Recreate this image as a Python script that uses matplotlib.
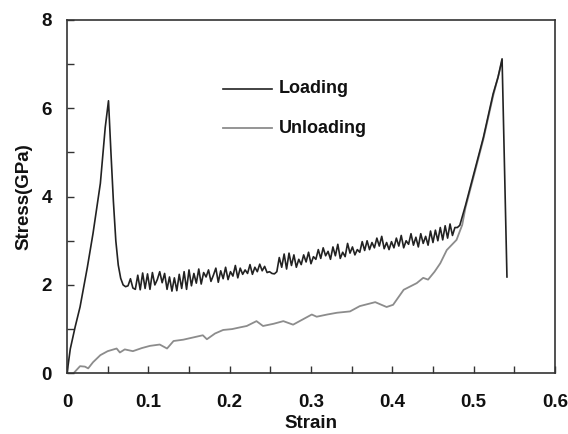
import matplotlib
matplotlib.use("Agg")
import matplotlib.pyplot as plt
from matplotlib.ticker import MultipleLocator

plt.rcParams['font.family'] = ['Liberation Sans', 'DejaVu Sans']
plt.rcParams['font.weight'] = 'bold'

# Loading branch: elastic rise, first peak, drop
loading_rise_strain = [0.0, 0.004, 0.010, 0.016, 0.025, 0.032, 0.041, 0.047, 0.051,
                       0.054, 0.057, 0.060, 0.063, 0.066, 0.069]
loading_rise_stress = [0.0, 0.55, 1.05, 1.5, 2.4, 3.17, 4.3, 5.57, 6.17,
                       5.0, 3.9, 3.0, 2.45, 2.15, 2.0]

# Loading branch: serrated plateau
plateau_strain = [
    0.072, 0.075, 0.078, 0.081, 0.084, 0.087, 0.090, 0.093, 0.096, 0.099,
    0.102, 0.105, 0.108, 0.111, 0.114, 0.117, 0.120, 0.123, 0.126, 0.129,
    0.132, 0.135, 0.138, 0.141, 0.144, 0.147, 0.150, 0.153, 0.156, 0.159,
    0.162, 0.165, 0.168, 0.171, 0.174, 0.177, 0.180, 0.183, 0.186, 0.189,
    0.192, 0.195, 0.198, 0.201, 0.204, 0.207, 0.210, 0.213, 0.216, 0.219,
    0.222, 0.225, 0.228, 0.231, 0.234, 0.237, 0.240, 0.243, 0.246, 0.249,
    0.252, 0.255, 0.258, 0.261, 0.264, 0.267, 0.270, 0.273, 0.276, 0.279,
    0.282, 0.285, 0.288, 0.291, 0.294, 0.297, 0.300, 0.303, 0.306, 0.309,
    0.312, 0.315, 0.318, 0.321, 0.324, 0.327, 0.330, 0.333, 0.336, 0.339,
    0.342, 0.345, 0.348, 0.351, 0.354, 0.357, 0.360, 0.363, 0.366, 0.369,
    0.372, 0.375, 0.378, 0.381, 0.384, 0.387, 0.390, 0.393, 0.396, 0.399,
    0.402, 0.405, 0.408, 0.411, 0.414, 0.417, 0.420, 0.423, 0.426, 0.429,
    0.432, 0.435, 0.438, 0.441, 0.444, 0.447, 0.450, 0.453, 0.456, 0.459,
    0.462, 0.465, 0.468, 0.471, 0.474, 0.477, 0.480,
]
plateau_stress = [
    1.96, 1.98, 2.14, 1.93, 1.90, 2.22, 1.89, 2.27, 1.92, 2.25,
    1.90, 2.28, 2.00, 2.12, 2.30, 2.05, 2.26, 1.90, 2.18, 1.86,
    2.16, 1.87, 2.24, 1.92, 2.30, 1.90, 2.34, 1.98, 2.26, 2.04,
    2.36, 2.02, 2.28, 2.18, 2.34, 2.08, 2.22, 2.38, 2.06, 2.32,
    2.14, 2.40, 2.12, 2.30, 2.20, 2.44, 2.16, 2.38, 2.24, 2.34,
    2.26, 2.46, 2.24, 2.40, 2.30, 2.47, 2.32, 2.42, 2.28, 2.30,
    2.26, 2.25, 2.30, 2.62, 2.40, 2.70, 2.36, 2.72, 2.44, 2.68,
    2.40, 2.58, 2.46, 2.68, 2.52, 2.74, 2.48, 2.64, 2.58, 2.80,
    2.60, 2.84, 2.66, 2.76, 2.58, 2.86, 2.66, 2.92, 2.60, 2.74,
    2.64, 2.94, 2.72, 2.86, 2.68, 2.80, 2.74, 2.98, 2.78, 3.00,
    2.80, 2.96, 2.84, 3.06, 2.88, 3.10, 2.82, 2.96, 2.80, 2.98,
    2.84, 3.06, 2.88, 3.12, 2.84, 3.00, 2.92, 3.16, 2.90, 3.08,
    2.86, 3.16, 2.94, 3.10, 2.90, 3.22, 2.96, 3.24, 3.00, 3.30,
    3.02, 3.34, 3.06, 3.38, 3.12, 3.30, 3.30,
]

# Loading branch: densification, final peak and failure
loading_end_strain = [0.483, 0.490, 0.500, 0.512, 0.524, 0.530, 0.533, 0.535, 0.541]
loading_end_stress = [3.35, 3.80, 4.50, 5.34, 6.33, 6.70, 6.95, 7.12, 2.18]

# Unloading branch
unloading_strain = [0.008, 0.016, 0.022, 0.026, 0.032, 0.041, 0.050, 0.061, 0.065,
                    0.071, 0.081, 0.092, 0.102, 0.114, 0.123, 0.131, 0.143, 0.155,
                    0.167, 0.172, 0.182, 0.192, 0.203, 0.213, 0.221, 0.233, 0.241,
                    0.254, 0.266, 0.278, 0.290, 0.301, 0.307, 0.320, 0.332, 0.348,
                    0.360, 0.379, 0.393, 0.401, 0.414, 0.430, 0.438, 0.444, 0.452,
                    0.459, 0.467, 0.479, 0.486, 0.490, 0.500, 0.512, 0.524, 0.533,
                    0.535]
unloading_stress = [0.0, 0.16, 0.15, 0.11, 0.25, 0.41, 0.50, 0.56, 0.47,
                    0.54, 0.50, 0.57, 0.62, 0.65, 0.56, 0.73, 0.76, 0.81,
                    0.86, 0.77, 0.90, 0.98, 1.00, 1.04, 1.07, 1.18, 1.07,
                    1.12, 1.18, 1.10, 1.22, 1.33, 1.28, 1.33, 1.37, 1.40,
                    1.52, 1.61, 1.50, 1.55, 1.89, 2.04, 2.16, 2.12, 2.30,
                    2.49, 2.79, 3.02, 3.36, 3.75, 4.45, 5.30, 6.28, 6.92,
                    7.08]

loading_strain = loading_rise_strain + plateau_strain + loading_end_strain
loading_stress = loading_rise_stress + plateau_stress + loading_end_stress

fig = plt.figure(figsize=(5.68, 4.34), dpi=100)
ax = fig.add_axes([0.118, 0.140, 0.859, 0.814])

ax.plot(unloading_strain, unloading_stress, color='#8c8c8c', lw=1.3)
ax.plot(loading_strain, loading_stress, color='#222222', lw=1.2)

ax.set_xlim(0, 0.6)
ax.set_ylim(0, 8)
ax.xaxis.set_major_locator(MultipleLocator(0.1))
ax.xaxis.set_minor_locator(MultipleLocator(0.05))
ax.yaxis.set_major_locator(MultipleLocator(2))
ax.yaxis.set_minor_locator(MultipleLocator(1))
ax.xaxis.set_major_formatter(plt.FuncFormatter(lambda v, p: '0' if v == 0 else f'{v:.1f}'))
ax.yaxis.set_major_formatter(plt.FuncFormatter(lambda v, p: f'{v:.0f}'))

for s in ax.spines.values():
    s.set_color('#333333')
    s.set_linewidth(1.2)
ax.tick_params(which='both', direction='in', color='#333333', width=1.0,
               labelsize=13.5, labelcolor='#111111')
ax.tick_params(which='both', length=5)
ax.tick_params(axis='x', pad=15)
ax.tick_params(axis='y', pad=11)

ax.set_xlabel('Strain', fontsize=13.5, fontweight='bold', color='#111111', labelpad=3)
ax.set_ylabel('Stress(GPa)', fontsize=13.5, fontweight='bold', color='#111111', labelpad=6)

# In-plot legend
ax.plot([0.192, 0.252], [6.44, 6.44], color='#222222', lw=1.2)
ax.text(0.260, 6.44, 'Loading', fontsize=13, fontweight='bold', color='#111111', va='center')
ax.plot([0.192, 0.252], [5.55, 5.55], color='#8c8c8c', lw=1.3)
ax.text(0.260, 5.55, 'Unloading', fontsize=13, fontweight='bold', color='#111111', va='center')

fig.savefig('out.png', dpi=100)
